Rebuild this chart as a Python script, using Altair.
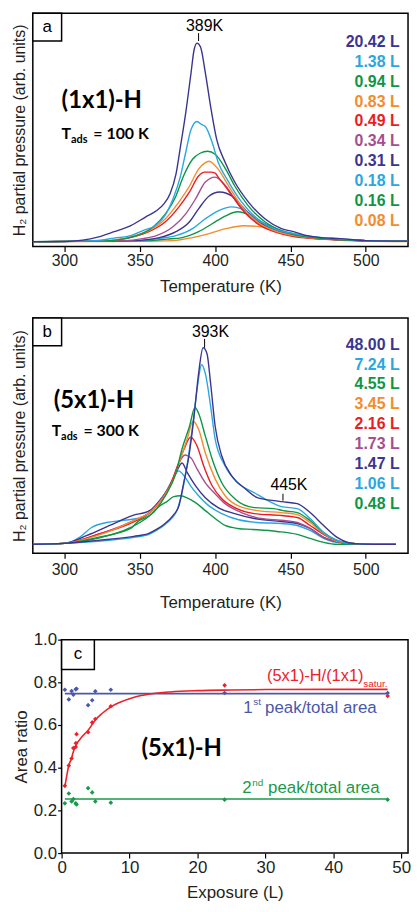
import altair as alt
import pandas as pd

SANS = "Liberation Sans, Arial, DejaVu Sans"
BOLDF = "Lato, Liberation Sans"

NAVY = "#3a3590"
LBLUE = "#2aa7e0"
GREEN = "#0e9647"
ORANGE = "#f48b2c"
RED = "#ec1c24"
MAUVE = "#a44f90"

# ---------------- Panel a: (1x1)-H, Tads = 100 K ----------------
A_LABELS = ["20.42 L", "1.38 L", "0.94 L", "0.83 L", "0.49 L", "0.34 L", "0.31 L", "0.18 L", "0.16 L", "0.08 L"]
A_COLORS = [NAVY, LBLUE, GREEN, ORANGE, RED, MAUVE, NAVY, LBLUE, GREEN, ORANGE]

A_T_2042 = [279, 300, 312, 322, 333, 344, 354, 361, 366, 370, 374, 377, 380.5, 384, 386, 388, 390.3, 393.5, 397, 401, 406.6, 413, 422, 433, 444, 452, 461, 470, 483, 500, 528]
A_V_2042 = [0, 0, 1.5, 4.5, 10, 16, 25, 31, 38, 48, 68, 96, 130, 170, 193, 200, 196, 170, 136, 103, 80, 60, 40, 23, 13, 10, 6, 4, 3, 1, 0.5]
A_T_138 = [279, 320, 333, 344, 352, 361, 367, 372, 377, 380.5, 384, 388, 391, 393.5, 398, 402, 409, 417.5, 428, 439, 452, 465, 480, 500, 528]
A_V_138 = [0, 1, 3.5, 6, 11, 17, 27, 43, 66, 90, 113, 121, 118, 116, 100, 80, 60, 40, 23, 13, 8, 5, 3, 1, 0.5]
A_T_094 = [279, 330, 340, 348, 359, 367, 374, 379, 385, 390, 395, 400, 407, 413, 422, 433, 444, 452, 465, 480, 500, 528]
A_V_094 = [0, 1, 3, 6, 15, 28, 46, 66, 83, 89, 91, 88, 73, 56, 36, 20, 11, 7, 4, 2, 1, 0.5]
A_T_083 = [279, 330, 346, 356, 367, 376, 383, 389, 393, 396, 399, 402, 409, 417.5, 428, 441, 452, 465, 480, 500, 528]
A_V_083 = [0, 1, 5.7, 11, 23, 40, 56, 73, 79, 81, 78, 73, 56, 36, 20, 10, 6, 3.5, 2, 1, 0.5]
A_T_049 = [279, 330, 346, 356, 367, 376, 383, 389, 393, 397, 400, 402, 409, 417.5, 428, 441, 452, 465, 480, 500, 528]
A_V_049 = [0, 1, 5, 10, 20, 35, 50, 66, 70, 70, 69, 65, 51, 33, 18, 9, 5, 3, 2, 1, 0.5]
A_T_034 = [279, 340, 352, 361, 372, 380.5, 387, 393.5, 400, 407, 413, 422, 433, 446, 460, 480, 500, 528]
A_V_034 = [0, 1, 3, 6, 15, 28, 43, 60, 65, 56, 43, 26, 15, 8, 4, 2, 1, 0.5]
A_T_031 = [279, 345, 355, 363, 374, 383, 389, 396, 403, 411, 417.5, 426, 437, 450, 465, 480, 500, 528]
A_V_031 = [0, 1, 2, 4, 10, 20, 33, 46, 50, 46, 36, 23, 13, 7, 4, 2, 1, 0.5]
A_T_018 = [279, 350, 362, 374, 385, 393.5, 402, 411, 417.5, 426, 435, 446, 460, 480, 500, 528]
A_V_018 = [0, 1, 3, 6, 13, 23, 31, 35, 33, 25, 15, 9, 5, 2, 1, 0.5]
A_T_016 = [279, 355, 368, 378, 389, 398, 407, 415, 424, 433, 444, 452, 465, 480, 500, 528]
A_V_016 = [0, 1, 2.5, 4, 10, 18, 26, 30, 26, 18, 11, 8, 4.5, 2, 1, 0.5]
A_T_008 = [279, 350, 372, 385, 396, 407, 419, 430, 441, 452, 465, 480, 500, 528]
A_V_008 = [0, 0.3, 1, 4, 8, 13, 16, 15, 10, 6, 3.5, 1.5, 0.5, 0]

A_T = [A_T_2042, A_T_138, A_T_094, A_T_083, A_T_049, A_T_034, A_T_031, A_T_018, A_T_016, A_T_008]
A_V = [A_V_2042, A_V_138, A_V_094, A_V_083, A_V_049, A_V_034, A_V_031, A_V_018, A_V_016, A_V_008]

# ---------------- Panel b: (5x1)-H, Tads = 300 K ----------------
B_LABELS = ["48.00 L", "7.24 L", "4.55 L", "3.45 L", "2.16 L", "1.73 L", "1.47 L", "1.06 L", "0.48 L"]
B_COLORS = [NAVY, LBLUE, GREEN, ORANGE, RED, MAUVE, NAVY, LBLUE, GREEN]

B_T_4800 = [279, 300, 322, 346, 356, 361, 366, 372, 376, 379, 382.6, 386, 389, 392, 394.6, 397, 400, 404.4, 411, 420, 428, 439, 444, 454.5, 463, 472, 481, 491, 505, 520]
B_V_4800 = [1, 2, 5, 9, 12, 16, 21, 30, 40, 62, 90, 130, 173, 199, 193, 163, 120, 90, 70, 57, 48, 45, 44, 42, 33, 20, 8, 2, 1, 1]
B_T_724 = [279, 300, 322, 346, 356, 361, 366, 371, 374, 378, 381.6, 385, 388, 391, 393.5, 397, 400, 406.6, 415, 426, 439, 444, 454.5, 463, 472, 481, 491, 505, 520]
B_V_724 = [1, 2, 4, 8, 11, 15, 20, 27, 33, 53, 83, 120, 157, 182, 173, 140, 107, 80, 63, 53, 42, 39, 37, 27, 13, 5, 2, 1, 1]
B_T_455 = [279, 300, 322, 344, 348, 359, 367, 374, 378, 383, 386.6, 389, 393.5, 398, 404.4, 413, 426, 439, 445, 454.5, 463, 472, 481, 491, 505, 520]
B_V_455 = [1, 2, 8, 17, 23, 33, 50, 73, 97, 120, 139, 133, 110, 87, 63, 47, 38, 37, 35, 33, 25, 13, 5, 2, 1, 1]
B_T_345 = [279, 300, 322, 346, 356.5, 365, 372, 377, 381.6, 385.3, 389, 393.5, 400, 406.6, 415, 428, 444, 454.5, 463, 472, 481, 491, 505, 520]
B_V_345 = [1, 2, 10, 25, 33, 47, 65, 87, 108, 125, 117, 93, 67, 50, 40, 35, 33, 31, 23, 12, 4, 2, 1, 1]
B_T_216 = [279, 300, 322, 343.5, 354, 363, 370, 375, 379.4, 383.7, 388, 392.4, 398, 404.4, 413, 426, 444, 454.5, 463, 472, 481, 491, 505, 520]
B_V_216 = [1, 2, 11, 22, 30, 43, 60, 80, 97, 109, 100, 80, 60, 47, 38, 32, 30, 28, 20, 11, 4, 2, 1, 1]
B_T_173 = [279, 300, 322, 346, 356.5, 365, 372, 376, 380, 384, 388, 393.5, 400, 406.6, 417.5, 430.5, 446, 454.5, 463, 472, 483, 495, 505, 520]
B_V_173 = [1, 2, 11, 25, 33, 48, 67, 83, 91, 88, 77, 63, 52, 42, 33, 27, 25, 23, 17, 8, 3, 1.5, 1, 1]
B_T_147 = [279, 300, 315, 330, 345, 356.5, 363, 370, 374, 378, 381.6, 387, 393.5, 402, 413, 426, 444, 454.5, 463, 472, 483, 495, 505, 520]
B_V_147 = [1, 2, 10, 20, 30, 35, 45, 60, 73, 83, 73, 60, 48, 38, 32, 27, 24, 22, 17, 8, 3, 1.5, 1, 1]
B_T_106 = [279, 300, 310, 318, 328, 338, 348, 356, 361, 367, 372, 375.7, 379.4, 383.7, 389, 395.7, 404.4, 415, 428, 444, 454.5, 463, 472, 485, 505, 520]
B_V_106 = [1, 2, 8, 18, 23, 25, 27, 32, 40, 53, 67, 75, 70, 60, 50, 40, 32, 26, 23, 22, 20, 15, 7, 2, 1, 1]
B_T_048 = [279, 300, 322, 344, 355, 363.5, 368, 372.5, 377, 381, 387, 393.5, 400, 406.6, 415, 425, 441, 454.5, 463, 472, 481, 495, 520]
B_V_048 = [1, 2, 7, 18, 28, 40, 44, 49, 50, 48, 43, 35, 27, 20, 17, 16, 14, 11, 7, 3, 1, 1, 1]

B_T = [B_T_4800, B_T_724, B_T_455, B_T_345, B_T_216, B_T_173, B_T_147, B_T_106, B_T_048]
B_V = [B_V_4800, B_V_724, B_V_455, B_V_345, B_V_216, B_V_173, B_V_147, B_V_106, B_V_048]

# ---------------- Panel c: area ratios ----------------
C_EXPOSURE = [0.48, 1.06, 1.47, 1.73, 2.08, 2.2, 3.9, 4.5, 4.96, 7.24, 24.0, 48.0]
C_RED = [0.315, 0.41, 0.443, 0.492, 0.497, 0.557, 0.566, 0.612, 0.628, 0.688, 0.786, 0.736]
C_RED_EXTRA_X = [2.1]
C_RED_EXTRA_Y = [0.515]
C_BLUE = [0.765, 0.72, 0.759, 0.742, 0.767, 0.77, 0.693, 0.716, 0.758, 0.765, 0.75, 0.75]
C_GREEN = [0.233, 0.279, 0.242, 0.253, 0.233, 0.228, 0.304, 0.284, 0.242, 0.236, 0.25, 0.25]
C_FIT_X = [0.48, 0.8, 1.06, 1.47, 1.73, 2.2, 3.0, 3.9, 5.0, 6.0, 7.24, 8.5, 10.45, 13.0, 16, 20, 25, 30, 40, 48]
C_FIT_Y = [0.31, 0.37, 0.41, 0.445, 0.475, 0.51, 0.545, 0.575, 0.625, 0.655, 0.685, 0.705, 0.728, 0.745, 0.755, 0.761, 0.764, 0.766, 0.767, 0.767]
C_BLUE_LINE_X = [0.48, 48.0]
C_BLUE_LINE_Y = [0.747, 0.747]
C_GREEN_LINE_X = [0.48, 48.0]
C_GREEN_LINE_Y = [0.253, 0.253]
C_XMAX = 51
C_RED_C = "#ee2028"
C_BLUE_C = "#4a58aa"
C_GREEN_C = "#1a9a4a"

W = 378        # plot width shared by the three panels
C_LEFT = 29    # panel c frame starts this far right of the common origin


def txt(s, x, y, size, color="black", weight="normal", align="left", baseline="middle", font=SANS):
    return alt.Chart(pd.DataFrame({"t": [s]})).mark_text(
        align=align, baseline=baseline, fontSize=size, fontWeight=weight, font=font, color=color
    ).encode(x=alt.value(x), y=alt.value(y), text="t:N")


def box(x0, w, h, letter):
    r = alt.Chart(pd.DataFrame({"k": [0]})).mark_rect(fill="white", stroke="black", strokeWidth=1.5).encode(
        x=alt.value(x0), x2=alt.value(x0 + w), y=alt.value(0), y2=alt.value(h))
    return r + txt(letter, x0 + w / 2, h / 2, 17, align="center")


def tick(t, y1, y2):
    return alt.Chart(pd.DataFrame({"k": [0]})).mark_rule(color="black", strokeWidth=1).encode(
        x=alt.datum(t), y=alt.value(y1), y2=alt.value(y2))


def tpd_panel(labels, colors, temps, vals, ydom, height, legend_top, letter, extra, lab_pad, title_pad):
    rows = []
    for i in reversed(range(len(labels))):
        for t, v in zip(temps[i], vals[i]):
            rows.append({"T": t, "v": v, "series": labels[i]})
    df = pd.DataFrame(rows)
    xsc = alt.Scale(domain=[279, 528], nice=False, zero=False)
    ysc = alt.Scale(domain=ydom, nice=False, zero=False)
    xax = alt.Axis(values=[300, 350, 400, 450, 500], title="Temperature (K)", domain=False, tickSize=5,
                   tickColor="black", tickWidth=1.2, labelFontSize=16, labelFont=SANS, labelColor="#231f20",
                   titleFontSize=17, titleFont=SANS, titleFontWeight="normal", titleColor="#231f20",
                   titlePadding=title_pad, labelPadding=lab_pad)
    yax = alt.Axis(title="H\u2082 partial pressure (arb. units)", labels=False, ticks=False, domain=False,
                   titleFontSize=16, titleFont=SANS, titleFontWeight="normal", titleColor="#231f20",
                   titlePadding=5)
    col = alt.Color("series:N", scale=alt.Scale(domain=labels, range=colors), legend=None)
    lines = alt.Chart(df).mark_line(strokeWidth=1.4, interpolate="monotone", clip=True).encode(
        x=alt.X("T:Q", scale=xsc, axis=xax), y=alt.Y("v:Q", scale=ysc, axis=yax), color=col)
    leg = alt.Chart(pd.DataFrame({"series": labels, "i": list(range(len(labels)))})).transform_calculate(
        v=f"{legend_top} - 20 * datum.i").mark_text(
        align="right", baseline="middle", fontSize=16, fontWeight="bold", font=SANS).encode(
        x=alt.value(W - 8.5), y=alt.Y("v:Q", scale=ysc, axis=yax), text="series:N", color=col)
    layers = [lines, leg, box(0, 29, 28, letter)] + extra
    return alt.layer(*layers).properties(width=W, height=height)


extra_a = [
    txt("389K", 173, 13, 16, align="center"),
    tick(389, 20, 28),
    txt("(1x1)-H", 29, 88, 24, weight="bold", font=BOLDF),
    txt("T", 29, 127, 16, weight="bold", baseline="alphabetic", font=BOLDF),
    txt("ads", 38.5, 131, 11, weight="bold", baseline="alphabetic", font=BOLDF),
    txt("= 100 K", 61, 127, 16, weight="bold", baseline="alphabetic", font=BOLDF),
]
chart_a = tpd_panel(A_LABELS, A_COLORS, A_T, A_V, [-5, 230], 235, 201, "a", extra_a, 1, 10)

extra_b = [
    txt("393K", 179, 14, 16, align="center"),
    tick(393, 21, 30),
    txt("445K", 258, 168, 16, align="center"),
    tick(445, 177, 184),
    txt("(5x1)-H", 21, 84, 24, weight="bold", font=BOLDF),
    txt("T", 19, 119, 16, weight="bold", baseline="alphabetic", font=BOLDF),
    txt("ads", 28.5, 123, 11, weight="bold", baseline="alphabetic", font=BOLDF),
    txt("= 300 K", 51, 119, 16, weight="bold", baseline="alphabetic", font=BOLDF),
]
chart_b = tpd_panel(B_LABELS, B_COLORS, B_T, B_V, [-8, 229], 237, 202, "b", extra_b, 3, 18)

# ---- panel c (its frame starts C_LEFT px right of the shared origin) ----
c_xmin = -C_LEFT * C_XMAX / (W - C_LEFT)
cx = alt.Scale(domain=[c_xmin, C_XMAX], nice=False, zero=False)
cy = alt.Scale(domain=[0, 1], nice=False)
cxax = alt.Axis(values=[0, 10, 20, 30, 40, 50], title="Exposure (L)", domain=False, tickSize=5,
                tickColor="black", tickWidth=1.2, labelFontSize=17, labelFont=SANS, labelColor="#231f20",
                titleFontSize=17, titleFont=SANS, titleFontWeight="normal", titleColor="#231f20",
                titlePadding=9, labelPadding=2, titleX=C_LEFT + (W - C_LEFT) / 2)
cyax = alt.Axis(values=[0, 0.2, 0.4, 0.6, 0.8, 1.0], format=".1f", title="Area ratio", domain=False,
                tickSize=4, tickColor="black", tickWidth=1.2, labelFontSize=17, labelFont=SANS,
                labelColor="#231f20", titleFontSize=17, titleFont=SANS, titleFontWeight="normal",
                titleColor="#231f20", titlePadding=3, labelPadding=1, offset=-C_LEFT)

kinds = ["red", "blue", "green"]
kcol = alt.Color("kind:N", scale=alt.Scale(domain=kinds, range=[C_RED_C, C_BLUE_C, C_GREEN_C]), legend=None)

pts = pd.DataFrame(
    [{"exp": x, "ratio": y, "kind": "red"} for x, y in zip(C_EXPOSURE + C_RED_EXTRA_X, C_RED + C_RED_EXTRA_Y)]
    + [{"exp": x, "ratio": y, "kind": "blue"} for x, y in zip(C_EXPOSURE, C_BLUE)]
    + [{"exp": x, "ratio": y, "kind": "green"} for x, y in zip(C_EXPOSURE, C_GREEN)]
)
lns = pd.DataFrame(
    [{"exp": x, "ratio": y, "kind": "blue"} for x, y in zip(C_BLUE_LINE_X, C_BLUE_LINE_Y)]
    + [{"exp": x, "ratio": y, "kind": "green"} for x, y in zip(C_GREEN_LINE_X, C_GREEN_LINE_Y)]
    + [{"exp": x, "ratio": y, "kind": "red"} for x, y in zip(C_FIT_X, C_FIT_Y)]
)
c_frame = alt.Chart(pd.DataFrame({"k": [0]})).mark_rect(
    fill="transparent", stroke="black", strokeWidth=1.5).encode(
    x=alt.datum(0, scale=cx, axis=cxax), x2=alt.datum(C_XMAX), y=alt.datum(0, scale=cy, axis=cyax), y2=alt.datum(1))
c_lines = alt.Chart(lns).mark_line(strokeWidth=1.6, interpolate="monotone").encode(
    x=alt.X("exp:Q", scale=cx, axis=cxax), y=alt.Y("ratio:Q", scale=cy, axis=cyax), color=kcol, detail="kind:N")
c_pts = alt.Chart(pts).mark_point(shape="diamond", filled=True, size=22, opacity=1).encode(
    x=alt.X("exp:Q", scale=cx, axis=cxax), y=alt.Y("ratio:Q", scale=cy, axis=cyax), color=kcol)

L = C_LEFT
extra_c = [
    txt("(5x1)-H/(1x1)", L + 207, 42, 16.5, color=C_RED_C, baseline="alphabetic"),
    txt("satur.", L + 304, 48, 10, color=C_RED_C, baseline="alphabetic"),
    txt("1", L + 183, 74, 17, color=C_BLUE_C, baseline="alphabetic"),
    txt("st", L + 193, 66, 10, color=C_BLUE_C, baseline="alphabetic"),
    txt("peak/total area", L + 205, 74, 17, color=C_BLUE_C, baseline="alphabetic"),
    txt("2", L + 182, 155, 17, color=C_GREEN_C, baseline="alphabetic"),
    txt("nd", L + 192, 147, 10, color=C_GREEN_C, baseline="alphabetic"),
    txt("peak/total area", L + 208, 155, 17, color=C_GREEN_C, baseline="alphabetic"),
    txt("(5x1)-H", L + 121, 110, 24, weight="bold", align="center", font=BOLDF),
]
chart_c = alt.layer(c_frame, c_lines, c_pts, box(L, 33, 30, "c"), *extra_c).properties(
    width=W, height=215, view=alt.ViewBackground(stroke="transparent"))

top_two = alt.vconcat(chart_a, chart_b, spacing=21).resolve_scale(
    color="independent", x="independent", y="independent")
chart = alt.vconcat(top_two, chart_c, spacing=18).resolve_scale(
    color="independent", x="independent", y="independent").properties(
    padding={"left": 3, "top": 0, "right": 0, "bottom": 0}
).configure_view(stroke="black", strokeWidth=1.5).configure_axis(grid=False)

chart.save("out.html", embed_options={"renderer": "svg", "actions": False})
